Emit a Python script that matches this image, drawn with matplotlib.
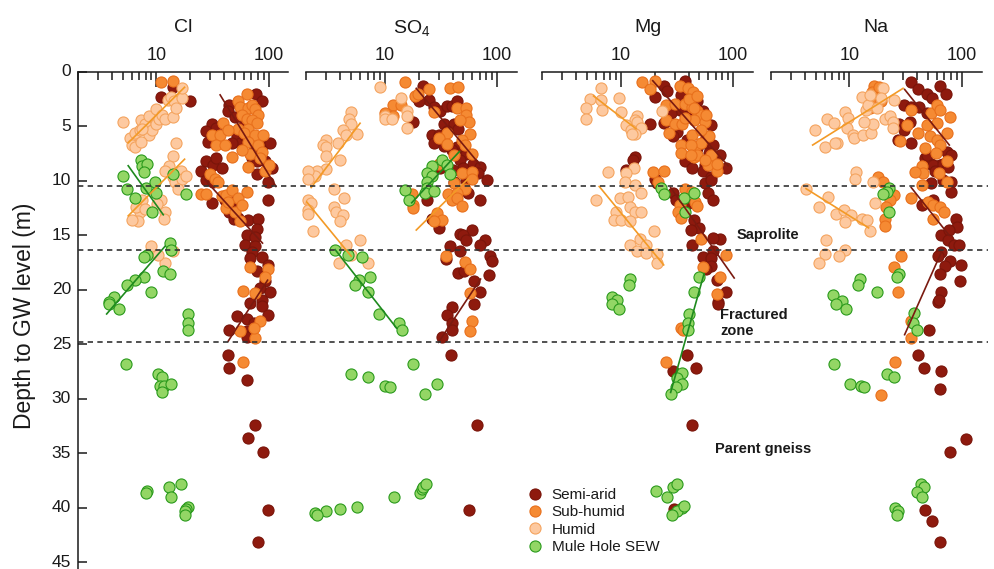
"""
Depth profiles of Cl, SO4, Mg and Na in four climate groups
"""
import matplotlib
matplotlib.use("Agg")
import matplotlib.pyplot as plt
import matplotlib.transforms as mtransforms
from matplotlib.lines import Line2D
from matplotlib.ticker import FixedLocator, FixedFormatter, NullFormatter

plt.rcParams['font.family'] = ['Liberation Sans', 'DejaVu Sans']
plt.rcParams['mathtext.fontset'] = 'custom'
plt.rcParams['mathtext.rm'] = 'Liberation Sans'
plt.rcParams['mathtext.default'] = 'rm'

# (concentration, depth) pairs
elements = ["Cl", "SO$_4$", "Mg", "Na"]
groups = ["Semi-arid", "Sub-humid", "Humid", "Mule Hole SEW"]
zones = [10.5, 16.35, 24.8]

cl_semi = [(13.9, 1.4), (10.9, 2.3), (19.9, 2.7),
           (77, 2.0), (86.7, 2.7), (44.7, 3.0), (43.5, 3.6), (49.6, 4.1), (59.7, 4.9), (31, 4.8), (34, 5.1),
           (27.9, 5.4), (29, 6.4), (52, 5.9), (55.7, 6.5), (61.8, 5.9), (71, 6.5), (47, 6.5), (89.5, 6.7),
           (103.5, 6.5), (76, 7.3), (71, 7.9), (78.7, 8.2), (92.9, 8.2), (107, 8.8), (97.7, 10.1), (78.7, 9.4),
           (27.9, 8.2), (31.8, 8.5), (34, 7.9), (38, 8.8), (24.8, 9.1), (27.9, 9.9), (31.8, 10.1),
           (31, 12.0), (97.7, 11.7), (41, 11.7), (47, 11.9), (44.7, 12.8), (48.6, 13.5), (53.5, 13.4), (66, 13.6),
           (81, 13.5), (78.7, 14.4), (64, 15.0), (76, 15.1), (61.8, 15.9), (76, 16.0),
           (71, 16.5), (68, 17.1), (86.7, 17.0), (78.7, 18.3), (97.7, 17.7), (92.9, 19.2), (84, 19.8),
           (103.5, 20.2), (68, 21.2), (86.7, 20.9), (86.7, 21.5), (52, 22.4), (64, 22.7), (73.5, 23.0),
           (97.7, 22.3), (44.7, 23.7), (64, 23.8), (64, 24.3),
           (43.5, 26.0), (44.7, 27.2), (64, 28.3), (76, 32.4), (66, 33.6), (89.5, 34.9), (97.7, 40.2), (81, 43.1)]
cl_sub = [(10.9, 0.9), (13.9, 0.8),
          (64, 2.0), (53.5, 2.7), (55.7, 3.2), (66, 3.3), (71, 3.0), (76, 3.4), (81, 3.9), (57.7, 3.9), (64, 4.3),
          (71, 4.4), (78.7, 4.7), (66, 5.2), (53.5, 5.2), (59.7, 5.6), (76, 5.8), (89.5, 5.8), (66, 6.4), (81, 6.7),
          (86.7, 7.3), (39.5, 4.7), (31, 5.8), (36.9, 5.8), (34, 6.7), (41, 6.7), (47, 7.8), (68, 7.5), (84, 7.9),
          (66, 8.7), (92.9, 9.1), (100, 8.5), (43.5, 5.3), (57.7, 7.2),
          (24.8, 11.2), (27.9, 11.2), (30, 9.4), (33, 9.8), (35.6, 10.1), (38, 11.4), (42, 11.3), (47, 10.8),
          (53.5, 11.6), (64, 11.0), (42, 12.5), (50.2, 12.8), (55.7, 13.7), (57.7, 12.2), (43.5, 11.9),
          (68, 17.9), (97.7, 18.1), (92.9, 18.8), (58.8, 20.1), (76, 20.3), (84, 22.8), (76, 24.4), (55.7, 23.8),
          (73.5, 23.5), (58.8, 26.6)]
cl_hum = [(5.0, 4.6), (5.8, 6.1), (6.0, 6.7), (6.5, 6.9), (6.4, 5.6), (7.1, 5.3), (7.3, 4.4), (7.9, 4.8),
          (8.5, 5.8), (8.5, 4.0), (9.1, 5.3), (9.9, 4.8), (9.9, 3.4), (10.5, 4.3), (11.3, 3.9), (11.9, 4.3),
          (12.6, 2.6), (13.6, 2.3), (13.9, 4.1), (14.3, 2.7), (15.0, 3.3), (17.0, 2.4), (17.0, 1.5), (7.5, 5.2),
          (7.3, 6.4),
          (15.0, 6.5), (13.9, 7.7), (12.9, 8.6), (11.9, 9.1), (13.9, 9.6), (14.6, 10.1), (16.5, 9.1), (17.0, 9.8),
          (18.5, 9.5), (10.9, 11.7), (11.9, 12.8), (11.7, 13.5), (10.2, 12.1), (7.5, 11.7), (7.1, 12.8),
          (6.9, 13.7), (6.0, 13.6), (6.6, 12.4), (7.9, 12.6), (15.6, 10.7),
          (8.9, 16.0), (13.9, 16.4), (11.9, 17.5), (10.3, 16.8)]
cl_sew = [(7.3, 8.1), (7.5, 8.6), (8.2, 8.4), (7.7, 9.2), (5.0, 9.5), (5.5, 10.7), (6.5, 11.6), (8.0, 10.6),
          (9.7, 10.1), (9.9, 11.1), (9.1, 12.8), (13.9, 9.4), (18.5, 11.2),
          (13.2, 15.7), (13.4, 16.3), (8.2, 16.8), (7.7, 17.0), (11.5, 18.3), (13.2, 18.5), (7.7, 18.8),
          (6.4, 19.1), (5.5, 19.5), (8.9, 20.2), (4.2, 20.6), (3.8, 21.1), (3.8, 21.3), (4.6, 21.7), (19, 22.2),
          (19, 23.0), (19, 23.7),
          (5.3, 26.8), (10.3, 27.7), (11.3, 28.0), (10.7, 28.8), (11.7, 28.8), (11.3, 29.4), (13.4, 28.6),
          (8.2, 38.4), (8.0, 38.6), (12.9, 38.1), (16.5, 37.8), (13.6, 39.0), (19, 39.9), (18.5, 40.1),
          (17.8, 40.3), (18, 40.6)]

so4_semi = [(22, 1.3), (19, 2.3), (24.8, 2.6), (20.2, 2.7), (27.4, 3.2), (31, 3.6), (35.6, 3.1), (39.3, 3.1),
            (43.6, 2.7), (33.9, 4.8), (41.6, 4.8), (45, 5.2), (35.6, 5.4), (26.3, 5.8), (30, 5.8), (27.4, 6.5),
            (33.9, 6.8), (43.6, 6.9), (51, 7.1), (52.7, 7.5), (61, 8.4), (46.2, 8.1), (50, 8.8), (70, 8.7),
            (81, 9.9), (52.7, 9.9), (68, 9.3), (39.3, 7.2), (40.6, 9.0), (31, 8.8), (41.6, 10.1), (55, 11.1),
            (70, 11.7), (23.7, 11.7), (26.3, 13.5), (30, 14.3), (17.6, 4.6),
            (59.8, 14.5), (46.2, 14.9), (50, 15.0), (52.7, 15.4), (78.5, 15.4), (70, 15.9), (37.6, 16.0),
            (46.2, 16.4), (35, 17.2), (87, 16.9), (89, 17.3), (45, 18.4), (51, 18.3), (84, 18.6), (62.7, 19.2),
            (70, 20.2), (62.7, 21.3), (39.5, 21.6), (35.6, 22.3), (39.8, 23.0), (39.8, 23.7), (32.2, 24.3),
            (39, 26.0), (66, 32.4), (55.7, 40.2)]
so4_sub = [(15, 0.9), (11.9, 3.0), (14, 3.0), (10, 3.8), (11.9, 4.0),
           (24.8, 1.6), (37.6, 1.5), (45, 1.4), (18.5, 2.2), (19.8, 2.0), (27.4, 3.7), (43.6, 3.3), (52.7, 3.3),
           (53, 3.9), (56, 4.6), (57.5, 5.7), (35.6, 5.6), (30, 6.1), (35.6, 6.6), (48.5, 6.2), (46.2, 4.4),
           (51.6, 6.7), (60, 7.5), (41.6, 7.6), (30, 8.4), (48.5, 9.3), (60, 9.2), (59.8, 9.8), (41.6, 10.2),
           (51.6, 10.7), (36.7, 11.2), (43.6, 11.1), (39.3, 11.7), (43.6, 11.6), (48.5, 12.3), (17.3, 11.2),
           (17.9, 12.2), (17.9, 12.5), (29, 12.9), (32.2, 13.6), (27.4, 13.7), (35, 16.9), (51.6, 17.4),
           (57.5, 18.1), (57.5, 20.3), (59.8, 22.8), (57.5, 23.8)]
so4_hum = [(5.0, 3.7), (4.8, 4.3), (5.0, 4.8), (4.2, 5.3), (4.5, 5.8), (5.6, 5.7), (3.85, 6.5), (3.0, 6.2),
           (2.8, 6.7), (3.0, 6.9), (3.0, 7.7), (4.0, 8.1), (3.0, 8.9), (2.5, 9.1), (2.4, 9.5), (2.05, 9.1),
           (2.05, 9.8),
           (3.5, 10.7), (2.05, 11.7), (2.2, 12.0), (2.05, 12.7), (2.05, 13.0), (4.35, 11.6), (3.5, 12.4),
           (3.7, 12.8), (4.2, 13.1), (4.0, 13.7), (2.3, 14.6), (6.0, 15.4), (4.5, 15.9), (5.0, 16.8), (3.9, 17.5),
           (7.1, 17.5),
           (9.0, 1.4), (14, 2.4), (15.7, 3.6), (15.7, 4.0), (15.7, 5.1), (10, 4.0), (10, 4.3), (11.5, 4.3)]
so4_sew = [(32.2, 8.1), (26.3, 8.6), (35.6, 8.5), (37.6, 9.4), (23.7, 9.3), (26.3, 9.5), (23.7, 10.1),
           (23.7, 10.6), (22.7, 11.1), (27.4, 10.9), (15, 10.8), (16.5, 11.7),
           (3.6, 16.3), (4.7, 16.8), (6.2, 17.0), (7.4, 18.8), (5.9, 19.1), (5.4, 19.5), (7.0, 20.2), (8.9, 22.2),
           (13.2, 23.0), (14.3, 23.7),
           (17.9, 26.8), (5.0, 27.7), (7.1, 28.0), (10, 28.8), (11.2, 28.9), (22.7, 29.5), (29, 28.6),
           (12.1, 39.0), (20.5, 38.6), (21.2, 38.3), (22, 38.1), (23, 37.8), (5.6, 39.9), (4.0, 40.1),
           (3.0, 40.3), (2.4, 40.5), (2.5, 40.6)]

mg_semi = [(37.2, 0.8), (24.2, 1.3), (25.8, 1.7), (20, 2.3), (34, 2.1), (42.5, 2.0), (48, 2.7), (33.5, 3.5),
           (27.7, 3.8), (40.3, 3.9), (54, 3.6), (63.7, 4.9), (18.1, 4.8), (24.2, 4.7), (31.8, 5.5), (29.2, 5.9),
           (38.4, 6.2), (55.5, 6.5), (57.4, 6.1), (66.4, 6.7), (48, 7.0), (60.7, 7.4), (75.5, 7.6), (66.4, 8.1),
           (55.5, 8.5), (37, 8.2), (42.5, 8.8), (54, 9.1), (63.7, 9.6), (86.5, 8.8), (13.2, 7.8), (12.7, 8.1),
           (11, 9.0), (20, 9.8), (21, 10.2), (55.5, 10.2), (63.7, 9.9), (59.5, 11.1), (66.4, 11.7), (29.2, 11.1),
           (30.7, 11.7), (38.4, 12.1), (45, 13.6), (49.5, 14.3), (41.8, 14.5), (75.5, 15.3), (66.4, 15.2),
           (42.5, 15.9), (66.4, 16.4), (54, 17.0), (63.7, 17.1), (63, 17.8), (57.4, 18.1), (71, 19.1),
           (85.5, 20.2), (73, 21.1), (73, 21.3), (38.4, 26.0), (46.4, 27.2), (29, 27.4), (42.5, 32.4),
           (29.5, 40.1)]
mg_sub = [(15.3, 0.9), (20, 0.8), (18, 1.6), (33.5, 1.3), (39.5, 1.5), (44, 1.8), (25.2, 3.0), (30.5, 2.9),
          (37, 2.9), (42.5, 3.2), (48, 3.6), (51.5, 3.9), (25.2, 4.4), (30.5, 4.8), (35.3, 4.8), (44.3, 4.4),
          (55.5, 4.6), (60.7, 5.9), (27, 5.6), (34.3, 6.7), (42.5, 5.8), (45.3, 6.9), (52, 6.5), (63.7, 7.6),
          (34.3, 7.4), (44.3, 7.8), (59.3, 8.5), (72, 9.1), (19.2, 9.2), (24.2, 9.1), (21.5, 10.1), (37, 10.7),
          (42.5, 11.0), (45.3, 11.9), (33.5, 12.2), (32, 12.8), (34.3, 13.4), (48, 12.3), (51.5, 15.3),
          (86.5, 16.8), (54.3, 17.9), (77, 18.8), (72, 20.4), (34.3, 23.5), (36, 23.7), (25.2, 26.6),
          (40.3, 2.5), (48, 2.2), (45, 3.3), (57.4, 3.9), (37, 4.2), (52, 5.3), (41.8, 6.7), (48, 7.6),
          (55.5, 8.1), (71, 8.4), (42, 7.6)]
mg_hum = [(6.7, 1.5), (5.3, 2.5), (6.6, 2.6), (9.7, 2.4), (4.9, 3.3), (6.8, 3.5), (10, 3.7), (4.9, 4.3),
          (13.8, 4.0), (13.2, 4.4), (14, 4.6), (15.1, 5.1), (11, 4.9), (12.3, 5.3), (13.2, 5.7), (12.5, 5.7),
          (23, 3.6),
          (7.6, 9.2), (13, 8.8), (11, 9.3), (10.8, 10.1), (13.3, 10.4), (15.1, 11.1), (6.0, 11.7), (9.9, 11.6),
          (11.6, 11.5), (12, 12.4), (13.3, 12.8), (15.1, 12.8), (9, 12.8), (8.6, 13.6), (10.1, 13.6), (12, 13.7),
          (19.5, 14.6), (14.9, 15.3), (16.7, 15.9), (12, 15.9), (14, 16.4), (16.7, 16.6), (21, 16.7), (21, 17.5)]
mg_sew = [(22.5, 10.6), (24.2, 11.2), (36.5, 11.6), (44.5, 11.1), (37, 12.8), (12, 19.0), (11.8, 19.5),
          (8.4, 20.6), (9.2, 20.9), (8.4, 21.3), (9.6, 21.7), (49.5, 18.8), (44.3, 20.2), (40, 22.2), (39.6, 23.0),
          (39.6, 23.7), (34.7, 27.6), (31.6, 28.1), (34.7, 28.6), (30.7, 28.9), (27.7, 29.5), (20.5, 38.4),
          (25.8, 39.0), (29, 38.1), (31.6, 37.8), (35.3, 40.0), (31.8, 40.3), (28.5, 40.6), (36.2, 39.8)]

na_semi = [(35, 0.9), (40.5, 1.6), (49, 2.0), (54.5, 2.4), (64, 1.3), (73, 2.0), (30.7, 3.0), (35.5, 3.2),
           (42, 3.2), (48.9, 3.8), (27.5, 4.8), (34.5, 4.6), (30.7, 5.3), (27, 6.2), (35.5, 6.5), (47, 7.9),
           (53.5, 8.4), (74, 7.3), (79.5, 7.6), (64.5, 8.5), (53.5, 10.2), (68, 9.9), (81, 10.1), (81, 11.0),
           (44, 12.2), (55, 11.7), (89, 13.5), (91, 14.2), (65, 15.0), (77.5, 14.5), (76, 15.4), (85, 15.9),
           (95, 15.9), (65, 16.5), (61, 16.9), (78, 17.3), (71, 17.8), (98, 17.7), (64, 18.5), (96, 19.2),
           (65, 20.2), (62, 21.1), (63, 20.9), (50.8, 23.7), (40.5, 26.0), (46.5, 27.2), (66, 27.4), (64.5, 29.1),
           (110, 33.7), (78, 34.9), (47, 40.2), (54, 41.2), (64, 43.1),
           (48.9, 7.6), (55, 8.5), (68, 8.4), (57.4, 9.1), (75.5, 8.7)]
na_sub = [(16.7, 1.3), (15.8, 1.8), (18.5, 1.4), (14.8, 2.6), (17.5, 2.7), (15.3, 3.3), (19, 2.7), (35, 3.5),
          (32.3, 4.9), (40.5, 5.6), (28, 6.3), (48.9, 4.9), (53.5, 3.8), (60, 3.0), (64.5, 3.5), (60.5, 4.7),
          (78, 4.1), (51.8, 5.9), (74, 5.6), (60.5, 6.2), (64.5, 6.7), (47, 7.0), (58.5, 7.4), (74, 8.2), (44, 8.6),
          (45, 9.3), (38.5, 9.2), (63, 9.3), (74, 10.1), (44, 10.4), (35, 11.6), (50, 11.9), (55, 12.2),
          (64.5, 12.4), (70, 12.8), (55, 13.5), (18, 9.6), (20, 10.1), (25, 11.3), (23, 11.7), (21.3, 12.4),
          (20.7, 13.5), (20.7, 14.1), (29, 16.9), (25, 17.9), (27, 20.2), (35, 22.8), (35, 24.4), (25.2, 26.6),
          (19, 29.6)]
na_hum = [(4.9, 5.3), (6.0, 6.9), (6.3, 4.3), (7.3, 4.7), (7.8, 6.5), (7.4, 6.5), (9.2, 3.7), (9.8, 4.2),
          (9.5, 5.1), (10.7, 5.8), (11, 6.1), (13.3, 5.8), (15.5, 5.6), (16.2, 4.8), (13.6, 4.6), (13, 2.3),
          (14, 3.5), (14.5, 3.0), (17.5, 3.3), (20.6, 4.3), (22.8, 4.0), (24.5, 4.6), (24.5, 5.1), (25, 2.6),
          (20, 1.5), (19, 2.4), (15.1, 2.1),
          (11.5, 9.2), (11.3, 9.8), (16.2, 10.1), (4.1, 10.7), (6.4, 11.5), (5.3, 12.4), (7.6, 13.0), (8.9, 12.7),
          (10.3, 13.1), (9.2, 13.8), (13, 13.5), (14.4, 13.6), (15.1, 14.6), (16.9, 12.0), (6.2, 15.4),
          (9.2, 16.3), (8.1, 16.9), (6.1, 16.7), (5.4, 17.5)]
na_sew = [(22.5, 10.6), (21.4, 11.0), (19.8, 11.2), (22.5, 12.8), (27.7, 18.5), (26.7, 18.8), (12.5, 19.0),
          (11.8, 19.5), (17.6, 20.2), (7.2, 20.5), (8.6, 21.0), (7.6, 21.3), (9.3, 21.7), (37.7, 22.1), (37, 23.0),
          (39.8, 23.7), (7.3, 26.8), (10.2, 28.6), (12.7, 28.8), (13.6, 28.9), (21.4, 27.7), (24.9, 28.0),
          (43, 37.8), (46.5, 38.1), (40.3, 38.5), (44, 39.0), (25.5, 40.0), (26.8, 40.3), (26.4, 40.6)]

# trend lines: group index, start (conc, depth), end (conc, depth)
cl_lines = [(0, (36.9, 2.1), (116, 10.5)), (0, (27.1, 9.9), (88, 15.7)), (0, (43.5, 24.7), (97.7, 19.1)),
            (2, (5.6, 6.5), (17.8, 1.4)), (2, (5.6, 13.2), (17.8, 8.0)),
            (3, (5.6, 8.6), (11.5, 13.1)), (3, (3.6, 22.2), (11.9, 16.0))]
so4_lines = [(0, (19, 1.5), (70, 8.5)), (0, (30, 24.8), (71, 19.0)), (1, (19, 14.5), (55, 9.8)),
             (2, (2.2, 10.6), (6.0, 4.7)), (2, (2.0, 11.9), (5.0, 16.9)),
             (3, (17.3, 12.0), (46, 7.3)), (3, (3.6, 16.3), (12.7, 23.5))]
mg_lines = [(0, (19.2, 0.8), (90, 8.6)), (0, (27.7, 10.6), (102, 18.9)),
            (2, (5.7, 2.2), (13.6, 5.2)), (2, (6.4, 10.5), (24, 17.7)),
            (3, (27.7, 29.4), (55, 18.5))]
na_lines = [(0, (31, 1.6), (77.5, 6.7)), (0, (35.5, 10.6), (77.5, 15.0)), (0, (31, 24.1), (66, 16.5)),
            (2, (4.7, 6.7), (30, 1.5)), (2, (4.1, 10.7), (14.8, 14.3))]

panels = [
    (cl_semi, cl_sub, cl_hum, cl_sew, cl_lines),
    (so4_semi, so4_sub, so4_hum, so4_sew, so4_lines),
    (mg_semi, mg_sub, mg_hum, mg_sew, mg_lines),
    (na_semi, na_sub, na_hum, na_sew, na_lines),
]

face = ["#8e1a0e", "#f58a33", "#fdc9a0", "#93d665"]
edge = ["#7a150a", "#e8701c", "#f4a45f", "#2a9a1c"]
line_col = ["#7a1a10", "#f39a26", "#f39a26", "#1e8a1e"]
ink = "#1a1a1a"

W, H = 995, 569
fig = plt.figure(figsize=(W / 100, H / 100), dpi=100)
lefts = [78, 306.5, 542.5, 771]
pw = 210.5
top_px, bottom_px = 72, 569

axes = []
for i, (semi, sub, hum, sew, lines) in enumerate(panels):
    ax = fig.add_axes([lefts[i] / W, 1 - bottom_px / H, pw / W, (bottom_px - top_px) / H])
    axes.append(ax)
    ax.set_xscale("log")
    ax.set_xlim(2, 150)
    ax.set_ylim(45.6, 0)

    for g, pts in enumerate([semi, sub, hum, sew]):
        ax.scatter([p[0] for p in pts], [p[1] for p in pts], s=64, c=face[g], edgecolors=edge[g],
                   linewidths=0.8, zorder=2 + g * 0.1, clip_on=False)
    for g, p0, p1 in lines:
        ax.plot([p0[0], p1[0]], [p0[1], p1[1]], color=line_col[g], lw=1.2, zorder=4)

    ax.xaxis.tick_top()
    ax.xaxis.set_major_locator(FixedLocator([10, 100]))
    ax.xaxis.set_major_formatter(FixedFormatter(["10", "100"]))
    ax.xaxis.set_minor_locator(FixedLocator([2, 3, 4, 5, 6, 7, 8, 9, 20, 30, 40, 50, 60, 70, 80, 90]))
    ax.xaxis.set_minor_formatter(NullFormatter())
    ax.tick_params(axis="x", which="major", direction="in", length=11, width=1.1, pad=6,
                   labelsize=13, colors=ink)
    ax.tick_params(axis="x", which="minor", direction="in", length=6, width=1.1, colors=ink)
    for side in ["bottom", "right"]:
        ax.spines[side].set_visible(False)
    ax.spines["top"].set_linewidth(1.1)
    ax.spines["top"].set_color(ink)
    if i == 0:
        ax.set_yticks(range(0, 50, 5))
        ax.tick_params(axis="y", direction="in", length=6.5, width=1.1, pad=5, labelsize=12.5, colors=ink)
        for lab in ax.get_yticklabels():
            lab.set_verticalalignment("center")
        ax.spines["left"].set_linewidth(1.1)
        ax.spines["left"].set_color(ink)
    else:
        ax.spines["left"].set_visible(False)
        ax.tick_params(axis="y", left=False, labelleft=False)
    ax.text(0.5, 1 + (top_px - 28) / (bottom_px - top_px), elements[i], transform=ax.transAxes,
            ha="center", va="center", fontsize=14, color=ink)
    ax.patch.set_visible(False)

fig.text(25 / W, 1 - 316 / H, "Depth to GW level (m)", rotation=90, ha="center", va="center",
         fontsize=16.5, color=ink)

# zone boundaries across the whole figure
trans = mtransforms.blended_transform_factory(fig.transFigure, axes[0].transData)
for d in zones:
    fig.add_artist(Line2D([78 / W, 988 / W], [d, d], transform=trans, color="#333333", lw=1.2,
                          linestyle=(0, (3.2, 2.6)), zorder=1))

fig.text(737 / W, 15.0, "Saprolite", transform=trans, ha="left", va="center", fontsize=10.5,
         fontweight="bold", color=ink)
fig.text(720 / W, 23.05, "Fractured\nzone", transform=trans, ha="left", va="center", fontsize=10.5,
         fontweight="bold", color=ink, linespacing=1.15)
fig.text(715 / W, 34.6, "Parent gneiss", transform=trans, ha="left", va="center", fontsize=10.5,
         fontweight="bold", color=ink)

handles = [Line2D([], [], marker="o", linestyle="none", markersize=8, markerfacecolor=face[g],
                  markeredgecolor=edge[g], markeredgewidth=0.8) for g in range(4)]
fig.legend(handles, groups, loc="upper left", bbox_to_anchor=(527.4 / W, 1 - 488 / H), frameon=False,
           fontsize=11, handlelength=1.0, handletextpad=0.6, labelspacing=0.22, borderpad=0,
           borderaxespad=0, labelcolor=ink)

fig.savefig("out.png", dpi=100)
